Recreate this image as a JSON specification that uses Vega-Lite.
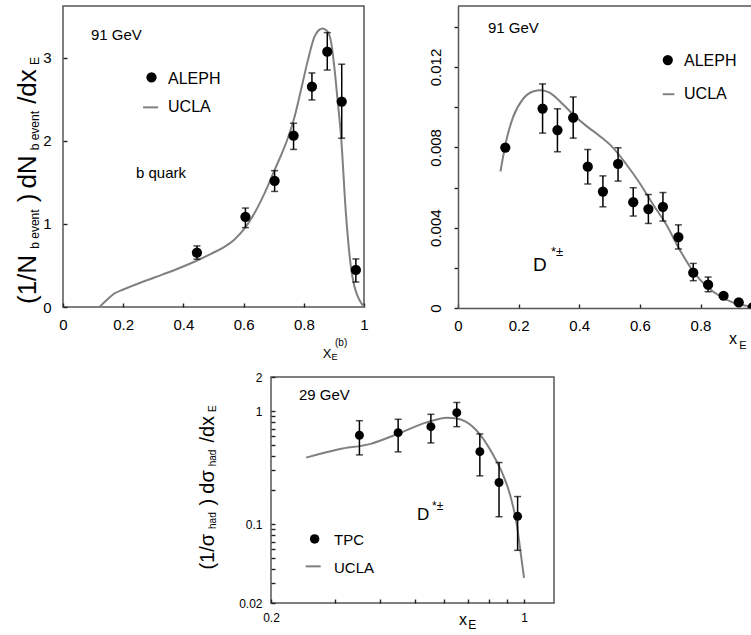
{
  "$schema": "https://vega.github.io/schema/vega-lite/v6.json",
  "padding": {"left": 14, "top": 5, "right": 0, "bottom": 0},
  "config": {
    "font": "Liberation Sans",
    "view": {"stroke": "#555", "strokeWidth": 1.5},
    "axis": {"grid": false, "domainColor": "#555", "domainWidth": 1.5, "ticks": true, "tickColor": "#222", "tickWidth": 1.4, "labelColor": "#000", "labelFont": "Liberation Sans", "labelFlush": false, "labelOverlap": false, "labelBound": false, "zindex": 1},
    "text": {"font": "Liberation Sans", "color": "#000"}
  },
  "datasets": {
    "b_pts": [
      {"x": 0.445, "y": 0.654, "lo": 0.575, "hi": 0.735},
      {"x": 0.606, "y": 1.084, "lo": 0.955, "hi": 1.19},
      {"x": 0.703, "y": 1.518, "lo": 1.39, "hi": 1.64},
      {"x": 0.766, "y": 2.06, "lo": 1.895, "hi": 2.21},
      {"x": 0.827, "y": 2.65, "lo": 2.49, "hi": 2.815},
      {"x": 0.878, "y": 3.07, "lo": 2.85, "hi": 3.3},
      {"x": 0.926, "y": 2.47, "lo": 2.03, "hi": 2.92},
      {"x": 0.973, "y": 0.446, "lo": 0.3, "hi": 0.578}
    ],
    "b_curve": [
      {"x": 0.121, "y": 0}, {"x": 0.15, "y": 0.1}, {"x": 0.17, "y": 0.16}, {"x": 0.2, "y": 0.21},
      {"x": 0.27, "y": 0.31}, {"x": 0.33, "y": 0.39}, {"x": 0.381, "y": 0.46}, {"x": 0.44, "y": 0.55},
      {"x": 0.492, "y": 0.64}, {"x": 0.535, "y": 0.72}, {"x": 0.569, "y": 0.81}, {"x": 0.6, "y": 0.93},
      {"x": 0.63, "y": 1.09}, {"x": 0.658, "y": 1.28}, {"x": 0.68, "y": 1.45}, {"x": 0.702, "y": 1.64},
      {"x": 0.725, "y": 1.83}, {"x": 0.746, "y": 2.02}, {"x": 0.768, "y": 2.27}, {"x": 0.79, "y": 2.6},
      {"x": 0.813, "y": 2.96}, {"x": 0.835, "y": 3.245}, {"x": 0.85, "y": 3.33}, {"x": 0.863, "y": 3.35},
      {"x": 0.877, "y": 3.32}, {"x": 0.89, "y": 3.2}, {"x": 0.901, "y": 2.9}, {"x": 0.912, "y": 2.5},
      {"x": 0.924, "y": 2.04}, {"x": 0.94, "y": 1.12}, {"x": 0.957, "y": 0.47}, {"x": 0.968, "y": 0.25},
      {"x": 0.979, "y": 0.13}, {"x": 0.99, "y": 0.05}, {"x": 1.0, "y": 0.0}
    ],
    "d_pts": [
      {"x": 0.156, "y": 0.00799, "lo": 0.00799, "hi": 0.00799},
      {"x": 0.279, "y": 0.00993, "lo": 0.00871, "hi": 0.01116},
      {"x": 0.328, "y": 0.00886, "lo": 0.00778, "hi": 0.00992},
      {"x": 0.38, "y": 0.00948, "lo": 0.00846, "hi": 0.01051},
      {"x": 0.428, "y": 0.00704, "lo": 0.00618, "hi": 0.00789},
      {"x": 0.478, "y": 0.0058, "lo": 0.00504, "hi": 0.00658},
      {"x": 0.528, "y": 0.00718, "lo": 0.00632, "hi": 0.00798},
      {"x": 0.578, "y": 0.00527, "lo": 0.00458, "hi": 0.00599},
      {"x": 0.628, "y": 0.00493, "lo": 0.00421, "hi": 0.00565},
      {"x": 0.676, "y": 0.00504, "lo": 0.00433, "hi": 0.00575},
      {"x": 0.727, "y": 0.00353, "lo": 0.00294, "hi": 0.00414},
      {"x": 0.776, "y": 0.00176, "lo": 0.00136, "hi": 0.00222},
      {"x": 0.825, "y": 0.00116, "lo": 0.00081, "hi": 0.00154},
      {"x": 0.876, "y": 0.00061, "lo": 0.00047, "hi": 0.00076},
      {"x": 0.926, "y": 0.00028, "lo": 0.00028, "hi": 0.00028},
      {"x": 0.972, "y": 0.00003, "lo": 0.00003, "hi": 0.00003}
    ],
    "d_curve": [
      {"x": 0.14, "y": 0.0068}, {"x": 0.159, "y": 0.00832}, {"x": 0.181, "y": 0.00948}, {"x": 0.214, "y": 0.0104},
      {"x": 0.247, "y": 0.01078}, {"x": 0.274, "y": 0.01085}, {"x": 0.302, "y": 0.01073}, {"x": 0.346, "y": 0.01015},
      {"x": 0.379, "y": 0.00965}, {"x": 0.423, "y": 0.00907}, {"x": 0.467, "y": 0.00857}, {"x": 0.511, "y": 0.00799},
      {"x": 0.555, "y": 0.00716}, {"x": 0.598, "y": 0.00625}, {"x": 0.643, "y": 0.00517}, {"x": 0.686, "y": 0.00418},
      {"x": 0.73, "y": 0.00294}, {"x": 0.774, "y": 0.00186}, {"x": 0.818, "y": 0.00111}, {"x": 0.862, "y": 0.00061},
      {"x": 0.906, "y": 0.00028}, {"x": 0.95, "y": 0.00011}, {"x": 0.978, "y": 0.00006}
    ],
    "t_pts": [
      {"x": 0.351, "y": 0.61, "lo": 0.409, "hi": 0.821},
      {"x": 0.449, "y": 0.644, "lo": 0.435, "hi": 0.845},
      {"x": 0.553, "y": 0.727, "lo": 0.522, "hi": 0.935},
      {"x": 0.652, "y": 0.967, "lo": 0.727, "hi": 1.19},
      {"x": 0.755, "y": 0.437, "lo": 0.267, "hi": 0.627},
      {"x": 0.853, "y": 0.233, "lo": 0.116, "hi": 0.35},
      {"x": 0.96, "y": 0.117, "lo": 0.0585, "hi": 0.175}
    ],
    "t_curve": [
      {"x": 0.25, "y": 0.387}, {"x": 0.308, "y": 0.459}, {"x": 0.377, "y": 0.512}, {"x": 0.452, "y": 0.635},
      {"x": 0.535, "y": 0.789}, {"x": 0.614, "y": 0.873}, {"x": 0.647, "y": 0.862}, {"x": 0.69, "y": 0.805},
      {"x": 0.751, "y": 0.635}, {"x": 0.817, "y": 0.423}, {"x": 0.871, "y": 0.282}, {"x": 0.918, "y": 0.175},
      {"x": 0.957, "y": 0.095}, {"x": 0.979, "y": 0.0555}, {"x": 1.0, "y": 0.0334}
    ]
  },
  "spacing": 7,
  "vconcat": [
    {
      "spacing": 58,
      "hconcat": [
        {
          "width": 301,
          "height": 301,
          "layer": [
            {
              "encoding": {
                "x": {"field": "x", "type": "quantitative",
                  "scale": {"domain": [0, 1], "nice": false, "zero": false},
                  "axis": {"title": null, "domain": false, "format": "~g", "labelFontSize": 15, "labelPadding": 14, "labelOverlap": false,
                    "values": [0, 0.05, 0.1, 0.15, 0.2, 0.25, 0.3, 0.35, 0.4, 0.45, 0.5, 0.55, 0.6, 0.65, 0.7, 0.75, 0.8, 0.85, 0.9, 0.95, 1],
                    "labelExpr": "abs(datum.value*5-round(datum.value*5))<1e-6 ? datum.label : ''",
                    "tickSize": -4}},
                "y": {"field": "y", "type": "quantitative",
                  "scale": {"domain": [0, 3.62], "nice": false, "zero": false},
                  "axis": {"title": null, "domain": false, "format": "d", "labelFontSize": 15, "labelPadding": 16, "labelOverlap": false,
                    "values": [0, 1, 2, 3],
                    "tickSize": -4}}
              },
              "layer": [
                {"data": {"name": "b_curve"}, "mark": {"type": "line", "color": "#808080", "strokeWidth": 2, "interpolate": "monotone"}},
                {"data": {"name": "b_pts"}, "mark": {"type": "rule", "color": "#000", "strokeWidth": 1.5}, "encoding": {"y": {"field": "lo", "type": "quantitative"}, "y2": {"field": "hi"}}},
                {"data": {"name": "b_pts"}, "mark": {"type": "tick", "orient": "horizontal", "size": 7, "thickness": 1.5, "color": "#000"}, "encoding": {"y": {"field": "lo", "type": "quantitative"}}},
                {"data": {"name": "b_pts"}, "mark": {"type": "tick", "orient": "horizontal", "size": 7, "thickness": 1.5, "color": "#000"}, "encoding": {"y": {"field": "hi", "type": "quantitative"}}},
                {"data": {"name": "b_pts"}, "mark": {"type": "circle", "size": 105, "color": "#000", "opacity": 1}}
              ]
            },
            {
              "data": {"values": [{}]},
              "layer": [
                {"mark": {"type": "circle", "size": 105, "color": "#000", "opacity": 1}, "encoding": {"x": {"datum": 0.294, "type": "quantitative"}, "y": {"datum": 2.763, "type": "quantitative"}}},
                {"mark": {"type": "rule", "color": "#808080", "strokeWidth": 2}, "encoding": {"x": {"datum": 0.266, "type": "quantitative"}, "x2": {"datum": 0.316}, "y": {"datum": 2.401, "type": "quantitative"}}},
                {"mark": {"type": "text", "text": "91 GeV", "fontSize": 15, "align": "left", "baseline": "alphabetic"}, "encoding": {"x": {"datum": 0.093, "type": "quantitative"}, "y": {"datum": 3.213, "type": "quantitative"}}},
                {"mark": {"type": "text", "text": "ALEPH", "fontSize": 16, "align": "left", "baseline": "alphabetic"}, "encoding": {"x": {"datum": 0.349, "type": "quantitative"}, "y": {"datum": 2.683, "type": "quantitative"}}},
                {"mark": {"type": "text", "text": "UCLA", "fontSize": 16, "align": "left", "baseline": "alphabetic"}, "encoding": {"x": {"datum": 0.349, "type": "quantitative"}, "y": {"datum": 2.341, "type": "quantitative"}}},
                {"mark": {"type": "text", "text": "b quark", "fontSize": 15, "align": "left", "baseline": "alphabetic"}, "encoding": {"x": {"datum": 0.2425, "type": "quantitative"}, "y": {"datum": 1.554, "type": "quantitative"}}},
                {"mark": {"type": "text", "text": "X", "fontSize": 13, "align": "left", "baseline": "alphabetic"}, "encoding": {"x": {"datum": 0.8628, "type": "quantitative"}, "y": {"datum": -0.6145, "type": "quantitative"}}},
                {"mark": {"type": "text", "text": "E", "fontSize": 9, "align": "left", "baseline": "alphabetic"}, "encoding": {"x": {"datum": 0.892, "type": "quantitative"}, "y": {"datum": -0.6386, "type": "quantitative"}}},
                {"mark": {"type": "text", "text": "(b)", "fontSize": 10, "align": "left", "baseline": "alphabetic"}, "encoding": {"x": {"datum": 0.9037, "type": "quantitative"}, "y": {"datum": -0.47, "type": "quantitative"}}},
                {"mark": {"type": "text", "text": "(1/N", "fontSize": 26, "angle": 270, "align": "left", "baseline": "alphabetic"}, "encoding": {"x": {"datum": -0.0897, "type": "quantitative"}, "y": {"datum": 0.0361, "type": "quantitative"}}},
                {"mark": {"type": "text", "text": "b event", "fontSize": 12, "angle": 270, "align": "left", "baseline": "alphabetic"}, "encoding": {"x": {"datum": -0.0797, "type": "quantitative"}, "y": {"datum": 0.7, "type": "quantitative"}}},
                {"mark": {"type": "text", "text": ")", "fontSize": 26, "angle": 270, "align": "left", "baseline": "alphabetic"}, "encoding": {"x": {"datum": -0.0897, "type": "quantitative"}, "y": {"datum": 1.259, "type": "quantitative"}}},
                {"mark": {"type": "text", "text": "dN", "fontSize": 26, "angle": 270, "align": "left", "baseline": "alphabetic"}, "encoding": {"x": {"datum": -0.0897, "type": "quantitative"}, "y": {"datum": 1.424, "type": "quantitative"}}},
                {"mark": {"type": "text", "text": "b event", "fontSize": 12, "angle": 270, "align": "left", "baseline": "alphabetic"}, "encoding": {"x": {"datum": -0.0797, "type": "quantitative"}, "y": {"datum": 1.884, "type": "quantitative"}}},
                {"mark": {"type": "text", "text": "/dx", "fontSize": 26, "angle": 270, "align": "left", "baseline": "alphabetic"}, "encoding": {"x": {"datum": -0.0897, "type": "quantitative"}, "y": {"datum": 2.443, "type": "quantitative"}}},
                {"mark": {"type": "text", "text": "E", "fontSize": 12, "angle": 270, "align": "left", "baseline": "alphabetic"}, "encoding": {"x": {"datum": -0.0797, "type": "quantitative"}, "y": {"datum": 2.91, "type": "quantitative"}}}
              ]
            }
          ]
        },
        {
          "width": 298,
          "height": 302,
          "view": {"stroke": null},
          "layer": [
            {"data": {"name": "d_curve"}, "mark": {"type": "line", "color": "#808080", "strokeWidth": 2, "interpolate": "monotone"},
             "encoding": {
              "x": {"field": "x", "type": "quantitative",
                "scale": {"domain": [0, 0.983], "nice": false, "zero": false},
                "axis": {"title": null, "domain": true, "format": "~g", "labelFontSize": 15, "labelPadding": 14, "labelOverlap": false,
                  "values": [0, 0.05, 0.1, 0.15, 0.2, 0.25, 0.3, 0.35, 0.4, 0.45, 0.5, 0.55, 0.6, 0.65, 0.7, 0.75, 0.8, 0.85, 0.9, 0.95],
                  "labelExpr": "abs(datum.value*5-round(datum.value*5))<1e-6 ? datum.label : ''",
                  "tickSize": -4}},
              "y": {"field": "y", "type": "quantitative",
                "scale": {"domain": [0, 0.01504], "nice": false, "zero": false},
                "axis": {"title": null, "domain": true, "format": "~g", "labelFontSize": 15, "labelPadding": 11, "labelOverlap": false,
                  "labelAngle": 270, "labelAlign": "center", "labelBaseline": "bottom",
                  "values": [0, 0.001, 0.002, 0.003, 0.004, 0.005, 0.006, 0.007, 0.008, 0.009, 0.01, 0.011, 0.012, 0.013, 0.014, 0.015],
                  "labelExpr": "abs(datum.value*250-round(datum.value*250))<1e-6 ? datum.label : ''",
                  "tickSize": 4}}
             }},
            {"data": {"values": [{}]}, "mark": {"type": "rule", "color": "#555", "strokeWidth": 1.5}, "encoding": {"x": {"datum": 0, "type": "quantitative"}, "x2": {"datum": 0.983}, "y": {"datum": 0.01504, "type": "quantitative"}}},
            {"data": {"name": "d_pts"}, "mark": {"type": "rule", "color": "#000", "strokeWidth": 1.5}, "encoding": {"x": {"field": "x", "type": "quantitative"}, "y": {"field": "lo", "type": "quantitative"}, "y2": {"field": "hi"}}},
            {"data": {"name": "d_pts"}, "mark": {"type": "tick", "orient": "horizontal", "size": 7, "thickness": 1.5, "color": "#000"}, "encoding": {"x": {"field": "x", "type": "quantitative"}, "y": {"field": "lo", "type": "quantitative"}}},
            {"data": {"name": "d_pts"}, "mark": {"type": "tick", "orient": "horizontal", "size": 7, "thickness": 1.5, "color": "#000"}, "encoding": {"x": {"field": "x", "type": "quantitative"}, "y": {"field": "hi", "type": "quantitative"}}},
            {"data": {"name": "d_pts"}, "mark": {"type": "circle", "size": 105, "color": "#000", "opacity": 1, "clip": true}, "encoding": {"x": {"field": "x", "type": "quantitative"}, "y": {"field": "y", "type": "quantitative"}}},
            {"data": {"values": [{}]}, "mark": {"type": "circle", "size": 105, "color": "#000", "opacity": 1}, "encoding": {"x": {"datum": 0.692, "type": "quantitative"}, "y": {"datum": 0.01235, "type": "quantitative"}}},
            {"data": {"values": [{}]}, "mark": {"type": "rule", "color": "#808080", "strokeWidth": 2}, "encoding": {"x": {"datum": 0.6755, "type": "quantitative"}, "x2": {"datum": 0.7137}, "y": {"datum": 0.010647, "type": "quantitative"}}},
            {"data": {"values": [{}]}, "mark": {"type": "text", "text": "91 GeV", "fontSize": 15, "align": "left", "baseline": "alphabetic"}, "encoding": {"x": {"datum": 0.0988, "type": "quantitative"}, "y": {"datum": 0.01371, "type": "quantitative"}}},
            {"data": {"values": [{}]}, "mark": {"type": "text", "text": "ALEPH", "fontSize": 16, "align": "left", "baseline": "alphabetic"}, "encoding": {"x": {"datum": 0.7456, "type": "quantitative"}, "y": {"datum": 0.012055, "type": "quantitative"}}},
            {"data": {"values": [{}]}, "mark": {"type": "text", "text": "UCLA", "fontSize": 16, "align": "left", "baseline": "alphabetic"}, "encoding": {"x": {"datum": 0.7456, "type": "quantitative"}, "y": {"datum": 0.0104, "type": "quantitative"}}},
            {"data": {"values": [{}]}, "mark": {"type": "text", "text": "D", "fontSize": 19, "align": "left", "baseline": "alphabetic"}, "encoding": {"x": {"datum": 0.2474, "type": "quantitative"}, "y": {"datum": 0.001843, "type": "quantitative"}}},
            {"data": {"values": [{}]}, "mark": {"type": "text", "text": "*±", "fontSize": 13, "align": "left", "baseline": "alphabetic"}, "encoding": {"x": {"datum": 0.3068, "type": "quantitative"}, "y": {"datum": 0.00259, "type": "quantitative"}}},
            {"data": {"values": [{}]}, "mark": {"type": "text", "text": "x", "fontSize": 16, "align": "left", "baseline": "alphabetic"}, "encoding": {"x": {"datum": 0.894, "type": "quantitative"}, "y": {"datum": -0.001793, "type": "quantitative"}}},
            {"data": {"values": [{}]}, "mark": {"type": "text", "text": "E", "fontSize": 11, "align": "left", "baseline": "alphabetic"}, "encoding": {"x": {"datum": 0.928, "type": "quantitative"}, "y": {"datum": -0.00204, "type": "quantitative"}}}
          ]
        }
      ]
    },
    {
      "spacing": 0,
      "hconcat": [
        {"width": 134, "height": 10, "view": {"stroke": null}, "data": {"values": [{}]}, "mark": {"type": "point", "opacity": 0}},
        {
          "width": 283,
          "height": 226,
          "layer": [
            {"data": {"name": "t_curve"}, "mark": {"type": "line", "color": "#808080", "strokeWidth": 2, "interpolate": "monotone"},
             "encoding": {
              "x": {"field": "x", "type": "quantitative",
                "scale": {"type": "log", "domain": [0.2, 1.21], "nice": false, "zero": false},
                "axis": {"title": null, "domain": false, "format": "~g", "labelFontSize": 12, "labelPadding": 13, "labelOverlap": false,
                  "values": [0.2, 0.3, 0.4, 0.5, 0.6, 0.7, 0.8, 0.9, 1],
                  "labelExpr": "datum.value == 0.2 || datum.value == 1 ? datum.label : ''",
                  "tickSize": -4}},
              "y": {"field": "y", "type": "quantitative",
                "scale": {"type": "log", "domain": [0.02, 2], "nice": false, "zero": false},
                "axis": {"title": null, "domain": false, "format": "~g", "labelFontSize": 12, "labelPadding": 13, "labelOverlap": false,
                  "values": [0.02, 0.03, 0.04, 0.05, 0.06, 0.07, 0.08, 0.09, 0.1, 0.2, 0.3, 0.4, 0.5, 0.6, 0.7, 0.8, 0.9, 1, 2],
                  "labelExpr": "datum.value == 2 || datum.value == 1 || datum.value == 0.1 || datum.value == 0.02 ? datum.label : ''",
                  "tickSize": -4}}
             }},
            {"data": {"name": "t_pts"}, "mark": {"type": "rule", "color": "#000", "strokeWidth": 1.5}, "encoding": {"x": {"field": "x", "type": "quantitative"}, "y": {"field": "lo", "type": "quantitative"}, "y2": {"field": "hi"}}},
            {"data": {"name": "t_pts"}, "mark": {"type": "tick", "orient": "horizontal", "size": 7, "thickness": 1.5, "color": "#000"}, "encoding": {"x": {"field": "x", "type": "quantitative"}, "y": {"field": "lo", "type": "quantitative"}}},
            {"data": {"name": "t_pts"}, "mark": {"type": "tick", "orient": "horizontal", "size": 7, "thickness": 1.5, "color": "#000"}, "encoding": {"x": {"field": "x", "type": "quantitative"}, "y": {"field": "hi", "type": "quantitative"}}},
            {"data": {"name": "t_pts"}, "mark": {"type": "circle", "size": 80, "color": "#000", "opacity": 1}, "encoding": {"x": {"field": "x", "type": "quantitative"}, "y": {"field": "y", "type": "quantitative"}}},
            {"data": {"values": [{}]}, "mark": {"type": "circle", "size": 90, "color": "#000", "opacity": 1}, "encoding": {"x": {"datum": 0.264, "type": "quantitative"}, "y": {"datum": 0.0738, "type": "quantitative"}}},
            {"data": {"values": [{}]}, "mark": {"type": "rule", "color": "#808080", "strokeWidth": 2}, "encoding": {"x": {"datum": 0.2494, "type": "quantitative"}, "x2": {"datum": 0.2744}, "y": {"datum": 0.0422, "type": "quantitative"}}},
            {"data": {"values": [{}]}, "mark": {"type": "text", "text": "29 GeV", "fontSize": 15, "align": "left", "baseline": "alphabetic"}, "encoding": {"x": {"datum": 0.239, "type": "quantitative"}, "y": {"datum": 1.25, "type": "quantitative"}}},
            {"data": {"values": [{}]}, "mark": {"type": "text", "text": "TPC", "fontSize": 15, "align": "left", "baseline": "alphabetic"}, "encoding": {"x": {"datum": 0.2986, "type": "quantitative"}, "y": {"datum": 0.0657, "type": "quantitative"}}},
            {"data": {"values": [{}]}, "mark": {"type": "text", "text": "UCLA", "fontSize": 15, "align": "left", "baseline": "alphabetic"}, "encoding": {"x": {"datum": 0.2986, "type": "quantitative"}, "y": {"datum": 0.0369, "type": "quantitative"}}},
            {"data": {"values": [{}]}, "mark": {"type": "text", "text": "D", "fontSize": 17, "align": "left", "baseline": "alphabetic"}, "encoding": {"x": {"datum": 0.506, "type": "quantitative"}, "y": {"datum": 0.109, "type": "quantitative"}}},
            {"data": {"values": [{}]}, "mark": {"type": "text", "text": "*±", "fontSize": 12, "align": "left", "baseline": "alphabetic"}, "encoding": {"x": {"datum": 0.557, "type": "quantitative"}, "y": {"datum": 0.1337, "type": "quantitative"}}},
            {"data": {"values": [{}]}, "mark": {"type": "text", "text": "x", "fontSize": 16, "align": "left", "baseline": "alphabetic"}, "encoding": {"x": {"datum": 0.661, "type": "quantitative"}, "y": {"datum": 0.01266, "type": "quantitative"}}},
            {"data": {"values": [{}]}, "mark": {"type": "text", "text": "E", "fontSize": 12, "align": "left", "baseline": "alphabetic"}, "encoding": {"x": {"datum": 0.7016, "type": "quantitative"}, "y": {"datum": 0.01167, "type": "quantitative"}}},
            {"data": {"values": [{}]}, "mark": {"type": "text", "text": "(1/σ", "fontSize": 20, "angle": 270, "align": "left", "baseline": "alphabetic"}, "encoding": {"x": {"datum": 0.1392, "type": "quantitative"}, "y": {"datum": 0.03951, "type": "quantitative"}}},
            {"data": {"values": [{}]}, "mark": {"type": "text", "text": "had", "fontSize": 10, "angle": 270, "align": "left", "baseline": "alphabetic"}, "encoding": {"x": {"datum": 0.1414, "type": "quantitative"}, "y": {"datum": 0.09035, "type": "quantitative"}}},
            {"data": {"values": [{}]}, "mark": {"type": "text", "text": ")", "fontSize": 20, "angle": 270, "align": "left", "baseline": "alphabetic"}, "encoding": {"x": {"datum": 0.1392, "type": "quantitative"}, "y": {"datum": 0.1462, "type": "quantitative"}}},
            {"data": {"values": [{}]}, "mark": {"type": "text", "text": "dσ", "fontSize": 20, "angle": 270, "align": "left", "baseline": "alphabetic"}, "encoding": {"x": {"datum": 0.1392, "type": "quantitative"}, "y": {"datum": 0.1855, "type": "quantitative"}}},
            {"data": {"values": [{}]}, "mark": {"type": "text", "text": "had", "fontSize": 10, "angle": 270, "align": "left", "baseline": "alphabetic"}, "encoding": {"x": {"datum": 0.1414, "type": "quantitative"}, "y": {"datum": 0.3243, "type": "quantitative"}}},
            {"data": {"values": [{}]}, "mark": {"type": "text", "text": "/dx", "fontSize": 20, "angle": 270, "align": "left", "baseline": "alphabetic"}, "encoding": {"x": {"datum": 0.1392, "type": "quantitative"}, "y": {"datum": 0.5252, "type": "quantitative"}}},
            {"data": {"values": [{}]}, "mark": {"type": "text", "text": "E", "fontSize": 10, "angle": 270, "align": "left", "baseline": "alphabetic"}, "encoding": {"x": {"datum": 0.1414, "type": "quantitative"}, "y": {"datum": 0.9799, "type": "quantitative"}}}
          ]
        }
      ]
    }
  ]
}
